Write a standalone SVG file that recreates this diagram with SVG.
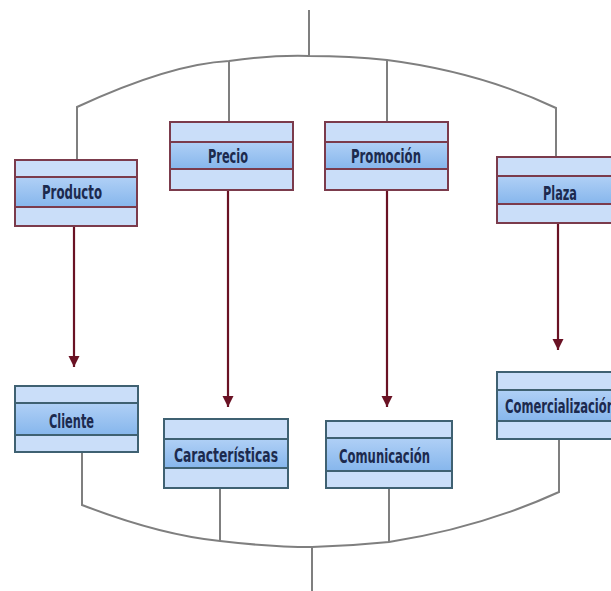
<svg xmlns="http://www.w3.org/2000/svg" width="611" height="591" viewBox="0 0 611 591">
  <defs>
    <linearGradient id="mid" x1="0" y1="0" x2="0" y2="1">
      <stop offset="0" stop-color="#b0d0f6"/>
      <stop offset="1" stop-color="#86b6ec"/>
    </linearGradient>
    <marker id="arr" viewBox="0 0 10 10" refX="10" refY="5" markerWidth="5" markerHeight="6" markerUnits="strokeWidth" orient="auto">
      <path d="M0,0 L10,5 L0,10 z" fill="#6a1224"/>
    </marker>
    <style>
      .band { fill: #cadef9; }
      .mid { fill: url(#mid); }
      .top rect.frame, .top line { stroke: #7b3b4c; }
      .bot rect.frame, .bot line { stroke: #3f6172; }
      rect.frame { fill: none; stroke-width: 2; }
      line.div { stroke-width: 2; }
      text { font-family: "DejaVu Sans Condensed", "Liberation Sans", sans-serif; font-size: 20px; fill: #1c2a4e; font-weight: bold; }
      .conn { fill: none; stroke: #7f7f7f; stroke-width: 2; }
      .arrow { stroke: #6a1224; stroke-width: 2.2; fill: none; }
    </style>
  </defs>

  <g id="connectors">
    <line class="conn" x1="309" y1="10" x2="309" y2="56"/>
    <path class="conn" d="M77,160 L77,107 Q170,64 229,61 Q270,55 309,56 Q350,56 387,60 Q480,72 556,108 L556,157"/>
    <line class="conn" x1="229" y1="61" x2="229" y2="122"/>
    <line class="conn" x1="387" y1="60" x2="387" y2="122"/>
    <path class="conn" d="M82,452 L82,505 Q160,535 220,541 Q270,547 312,547 Q350,546 389,542 Q480,528 559,492 L559,439"/>
    <line class="conn" x1="220" y1="488" x2="220" y2="541"/>
    <line class="conn" x1="389" y1="488" x2="389" y2="542"/>
    <line class="conn" x1="312" y1="547" x2="312" y2="591"/>
    <line class="arrow" x1="74" y1="226" x2="74" y2="367" marker-end="url(#arr)"/>
    <line class="arrow" x1="228" y1="190" x2="228" y2="407" marker-end="url(#arr)"/>
    <line class="arrow" x1="387" y1="190" x2="387" y2="407" marker-end="url(#arr)"/>
    <line class="arrow" x1="558" y1="223" x2="558" y2="350" marker-end="url(#arr)"/>
  </g>

  <g id="producto" class="top">
    <rect class="band" x="15" y="160" width="122" height="66"/>
    <rect class="mid" x="15" y="177" width="122" height="30"/>
    <line class="div" x1="15" y1="177" x2="137" y2="177"/>
    <line class="div" x1="15" y1="207" x2="137" y2="207"/>
    <rect class="frame" x="15" y="160" width="122" height="66"/>
    <text x="42" y="199" textLength="60" lengthAdjust="spacingAndGlyphs">Producto</text>
  </g>

  <g id="precio" class="top">
    <rect class="band" x="170" y="122" width="123" height="68"/>
    <rect class="mid" x="170" y="142" width="123" height="27"/>
    <line class="div" x1="170" y1="142" x2="293" y2="142"/>
    <line class="div" x1="170" y1="169" x2="293" y2="169"/>
    <rect class="frame" x="170" y="122" width="123" height="68"/>
    <text x="208" y="163" textLength="40" lengthAdjust="spacingAndGlyphs">Precio</text>
  </g>

  <g id="promocion" class="top">
    <rect class="band" x="325" y="122" width="123" height="68"/>
    <rect class="mid" x="325" y="142" width="123" height="27"/>
    <line class="div" x1="325" y1="142" x2="448" y2="142"/>
    <line class="div" x1="325" y1="169" x2="448" y2="169"/>
    <rect class="frame" x="325" y="122" width="123" height="68"/>
    <text x="351" y="163" textLength="70" lengthAdjust="spacingAndGlyphs">Promoción</text>
  </g>

  <g id="plaza" class="top">
    <rect class="band" x="497" y="157" width="128" height="66"/>
    <rect class="mid" x="497" y="176" width="128" height="28"/>
    <line class="div" x1="497" y1="176" x2="625" y2="176"/>
    <line class="div" x1="497" y1="204" x2="625" y2="204"/>
    <rect class="frame" x="497" y="157" width="128" height="66"/>
    <text x="543" y="200" textLength="34" lengthAdjust="spacingAndGlyphs">Plaza</text>
  </g>

  <g id="cliente" class="bot">
    <rect class="band" x="15" y="386" width="123" height="66"/>
    <rect class="mid" x="15" y="403" width="123" height="32"/>
    <line class="div" x1="15" y1="403" x2="138" y2="403"/>
    <line class="div" x1="15" y1="435" x2="138" y2="435"/>
    <rect class="frame" x="15" y="386" width="123" height="66"/>
    <text x="49" y="428" textLength="45" lengthAdjust="spacingAndGlyphs">Cliente</text>
  </g>

  <g id="caracteristicas" class="bot">
    <rect class="band" x="164" y="419" width="124" height="69"/>
    <rect class="mid" x="164" y="439" width="124" height="29"/>
    <line class="div" x1="164" y1="439" x2="288" y2="439"/>
    <line class="div" x1="164" y1="468" x2="288" y2="468"/>
    <rect class="frame" x="164" y="419" width="124" height="69"/>
    <text x="174" y="462" textLength="104" lengthAdjust="spacingAndGlyphs">Características</text>
  </g>

  <g id="comunicacion" class="bot">
    <rect class="band" x="326" y="421" width="126" height="67"/>
    <rect class="mid" x="326" y="438" width="126" height="33"/>
    <line class="div" x1="326" y1="438" x2="452" y2="438"/>
    <line class="div" x1="326" y1="471" x2="452" y2="471"/>
    <rect class="frame" x="326" y="421" width="126" height="67"/>
    <text x="339" y="463" textLength="91" lengthAdjust="spacingAndGlyphs">Comunicación</text>
  </g>

  <g id="comercializacion" class="bot">
    <rect class="band" x="497" y="372" width="130" height="67"/>
    <rect class="mid" x="497" y="390" width="130" height="31"/>
    <line class="div" x1="497" y1="390" x2="627" y2="390"/>
    <line class="div" x1="497" y1="421" x2="627" y2="421"/>
    <rect class="frame" x="497" y="372" width="130" height="67"/>
    <text x="505" y="413" textLength="110" lengthAdjust="spacingAndGlyphs">Comercialización</text>
  </g>
</svg>
